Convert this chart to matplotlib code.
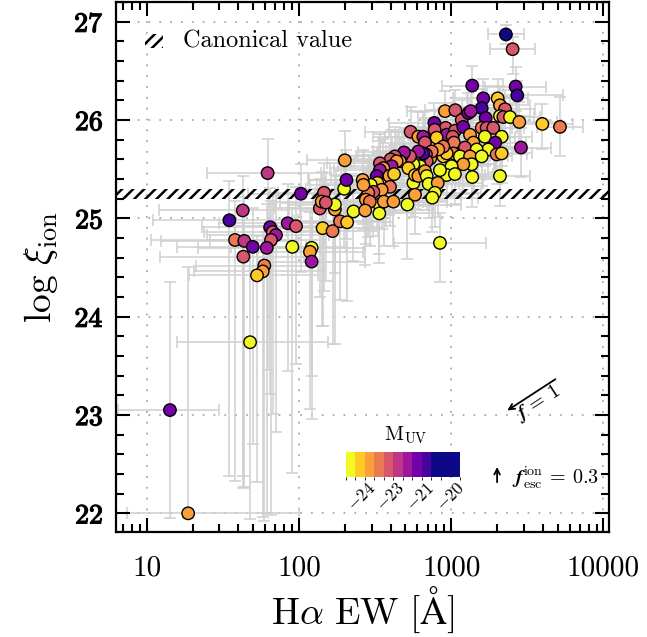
import numpy as np
import matplotlib
matplotlib.use("Agg")
import matplotlib.pyplot as plt
import matplotlib.patheffects as pe
from matplotlib.colors import BoundaryNorm, ListedColormap
from matplotlib.patches import Rectangle
from matplotlib.ticker import MultipleLocator, LogLocator, NullFormatter

plt.rcParams['font.family'] = 'serif'
plt.rcParams['font.serif'] = ['cmr10', 'DejaVu Serif']
plt.rcParams['mathtext.fontset'] = 'cm'
plt.rcParams['axes.unicode_minus'] = False
plt.rcParams['axes.formatter.use_mathtext'] = True
plt.rcParams['hatch.linewidth'] = 1.8

# ---------------- data ----------------
# three isolated objects, 35 low-EW objects, 118 objects of the main cloud
ew = [14.2, 18.7, 47.7,
      62.2, 103, 146, 198, 205, 200, 42.7, 34.9, 38.0, 43.7, 49.7, 43.1, 64.6,
      67.2, 70.6, 65.5, 61.4, 59.2, 57.8, 53.0, 84.3, 95.6, 90.4, 121, 118, 121,
      143, 166, 186, 207, 137, 172, 172, 141, 150,
      2286, 2530, 1374, 2650, 2716, 1623, 2018, 2090, 2255, 1585, 1683, 2090, 2198,
      2432, 2800, 3966, 5180, 910, 1064, 1172, 1295, 1342, 774, 918, 778, 933,
      1057, 1200, 541, 608, 655, 672, 802, 1021, 1041, 1328, 1585, 1708, 1888,
      1663, 2143, 1946, 1750, 1397, 1230, 1469, 1031, 1140, 1328, 1585, 1987, 2143,
      2871, 1362, 2090, 1200, 1005, 933, 1057, 843, 887, 933, 887, 822, 728,
      744, 682, 690, 617, 578, 624, 564, 655, 608, 536, 472, 489, 460,
      523, 564, 578, 608, 672, 690, 711, 815, 781, 751, 578, 426, 400,
      438, 406, 340, 358, 340, 324, 392, 421, 396, 327, 349, 296, 308,
      285, 262, 265, 275, 337, 361, 292, 417, 515, 228, 272, 337, 843,
      1374]
logxi = [23.05, 22.00, 23.74,
         25.46, 25.25, 25.26, 25.30, 25.39, 25.59, 25.08, 24.98, 24.78, 24.77, 24.71, 24.61, 24.91,
         24.86, 24.83, 24.78, 24.70, 24.52, 24.46, 24.42, 24.95, 24.92, 24.71, 24.70, 24.66, 24.56,
         24.90, 24.87, 24.97, 24.96, 25.10, 25.09, 25.14, 25.17, 25.16,
         26.87, 26.72, 26.35, 26.34, 26.25, 26.22, 26.22, 26.15, 26.11, 26.12, 26.02, 26.04, 26.03,
         26.03, 25.98, 25.96, 25.93, 26.09, 26.10, 26.00, 26.07, 26.09, 25.97, 25.92, 25.90, 25.85,
         25.89, 25.93, 25.88, 25.83, 25.83, 25.77, 25.82, 25.83, 25.77, 25.85, 25.92, 25.92, 25.92,
         25.83, 25.83, 25.77, 25.70, 25.77, 25.72, 25.70, 25.66, 25.63, 25.63, 25.63, 25.65, 25.66,
         25.72, 25.55, 25.43, 25.55, 25.53, 25.44, 25.45, 25.49, 25.63, 25.66, 25.73, 25.70, 25.61,
         25.68, 25.65, 25.58, 25.61, 25.57, 25.53, 25.55, 25.66, 25.68, 25.63, 25.63, 25.67, 25.58,
         25.51, 25.36, 25.44, 25.43, 25.48, 25.43, 25.35, 25.36, 25.26, 25.21, 25.24, 25.63, 25.60,
         25.58, 25.53, 25.56, 25.51, 25.49, 25.43, 25.43, 25.45, 25.32, 25.36, 25.29, 25.34, 25.27,
         25.26, 25.39, 25.34, 25.19, 25.14, 25.17, 25.17, 25.17, 25.14, 25.07, 25.08, 25.05, 24.75,
         25.42]
muv = [-21.3, -23.7, -24.4,
       -22.7, -21.3, -23.1, -24.4, -21.3, -23.7, -22.7, -20.7, -23.4, -22.7, -21.3, -23.1, -21.3,
       -23.1, -22.1, -23.1, -22.1, -23.4, -23.7, -24.05, -22.1, -23.1, -24.4, -24.4, -23.7, -22.1,
       -24.05, -23.4, -23.4, -24.05, -23.1, -23.7, -24.4, -23.7, -23.1,
       -20.2, -23.1, -21.3, -21.3, -20.7, -21.3, -24.05, -23.7, -23.1, -20.7, -21.3, -24.4, -23.1,
       -24.4, -23.7, -24.05, -23.4, -23.7, -23.1, -23.1, -21.3, -22.1, -21.3, -23.1, -23.1, -22.1,
       -23.1, -21.3, -23.1, -23.7, -22.1, -23.1, -24.05, -23.1, -23.4, -23.7, -23.4, -23.1, -23.1,
       -24.4, -24.4, -21.3, -24.4, -23.7, -23.1, -24.4, -23.4, -24.4, -23.7, -24.4, -23.4, -24.05,
       -22.1, -24.4, -24.4, -23.7, -24.4, -24.4, -24.4, -24.4, -24.05, -24.05, -23.4, -23.7, -23.7,
       -23.4, -23.1, -23.1, -24.05, -23.7, -24.4, -24.4, -20.7, -22.1, -23.1, -23.4, -22.1, -23.7,
       -24.05, -24.4, -24.05, -23.7, -23.7, -24.4, -24.4, -23.7, -24.4, -24.4, -23.7, -23.1, -23.1,
       -23.7, -22.1, -23.1, -23.7, -22.1, -21.3, -23.7, -24.05, -23.4, -24.05, -23.7, -24.4, -23.1,
       -23.4, -23.7, -23.7, -23.7, -24.4, -23.7, -23.4, -23.7, -24.4, -24.4, -23.7, -24.4, -24.4,
       -24.4]
# asymmetric errors (EW errors in dex, log xi errors in dex)
ew_lo = [0.34, 0.40, 0.48,
         0.40, 0.35, 0.30, 0.25, 0.25, 0.25, 0.55, 0.50, 0.55, 0.55, 0.50, 0.55, 0.45,
         0.45, 0.45, 0.40, 0.45, 0.45, 0.45, 0.45, 0.45, 0.40, 0.40, 0.35, 0.35, 0.35,
         0.30, 0.30, 0.30, 0.30, 0.30, 0.30, 0.30, 0.30, 0.30,
         0.12, 0.15, 0.20, 0.20, 0.20, 0.20, 0.20, 0.20, 0.20, 0.20, 0.20, 0.20, 0.20,
         0.20, 0.20, 0.20, 0.15, 0.25, 0.20, 0.25, 0.20, 0.20, 0.30, 0.25, 0.30, 0.25,
         0.20, 0.25, 0.30, 0.30, 0.25, 0.30, 0.25, 0.25, 0.20, 0.20, 0.20, 0.20, 0.20,
         0.20, 0.20, 0.20, 0.20, 0.20, 0.20, 0.20, 0.25, 0.20, 0.25, 0.20, 0.20, 0.20,
         0.20, 0.15, 0.20, 0.20, 0.20, 0.25, 0.25, 0.25, 0.25, 0.25, 0.25, 0.25, 0.30,
         0.30, 0.30, 0.30, 0.30, 0.30, 0.30, 0.30, 0.30, 0.30, 0.30, 0.30, 0.30, 0.30,
         0.30, 0.30, 0.30, 0.30, 0.30, 0.30, 0.30, 0.30, 0.30, 0.30, 0.30, 0.35, 0.30,
         0.30, 0.35, 0.35, 0.35, 0.30, 0.30, 0.35, 0.35, 0.35, 0.35, 0.35, 0.35, 0.35,
         0.35, 0.35, 0.35, 0.35, 0.35, 0.30, 0.35, 0.35, 0.35, 0.35, 0.30, 0.35, 0.30,
         0.20]
ew_hi = [0.32, 0.73, 0.51,
         0.35, 0.30, 0.30, 0.25, 0.25, 0.30, 0.30, 0.45, 0.40, 0.35, 0.35, 0.40, 0.35,
         0.40, 0.35, 0.35, 0.35, 0.35, 0.40, 0.40, 0.35, 0.35, 0.35, 0.35, 0.35, 0.35,
         0.30, 0.30, 0.30, 0.30, 0.30, 0.30, 0.30, 0.30, 0.30,
         0.12, 0.15, 0.20, 0.20, 0.30, 0.20, 0.20, 0.20, 0.20, 0.20, 0.20, 0.20, 0.20,
         0.20, 0.25, 0.20, 0.15, 0.25, 0.20, 0.25, 0.20, 0.20, 0.30, 0.25, 0.30, 0.25,
         0.20, 0.25, 0.30, 0.30, 0.25, 0.30, 0.25, 0.25, 0.20, 0.20, 0.20, 0.20, 0.20,
         0.20, 0.20, 0.20, 0.20, 0.20, 0.20, 0.20, 0.25, 0.20, 0.25, 0.20, 0.20, 0.20,
         0.20, 0.15, 0.20, 0.20, 0.20, 0.25, 0.25, 0.25, 0.25, 0.25, 0.25, 0.25, 0.30,
         0.30, 0.30, 0.30, 0.30, 0.30, 0.30, 0.30, 0.30, 0.30, 0.30, 0.30, 0.30, 0.30,
         0.30, 0.30, 0.30, 0.30, 0.30, 0.30, 0.30, 0.30, 0.30, 0.30, 0.30, 0.35, 0.30,
         0.30, 0.35, 0.35, 0.35, 0.30, 0.30, 0.35, 0.35, 0.35, 0.35, 0.35, 0.35, 0.35,
         0.35, 0.35, 0.35, 0.35, 0.35, 0.30, 0.35, 0.35, 0.35, 0.35, 0.30, 0.35, 0.30,
         0.20]
xi_lo = [1.10, 0.05, 1.80,
         2.00, 0.80, 1.00, 0.60, 0.60, 0.60, 2.70, 2.60, 2.45, 2.50, 2.00, 2.35, 1.70,
         1.85, 2.00, 2.80, 2.70, 2.60, 2.50, 2.10, 1.50, 1.40, 2.30, 1.30, 1.60, 1.60,
         1.00, 1.15, 0.80, 0.80, 0.90, 1.37, 0.70, 1.27, 0.80,
         0.10, 0.25, 0.30, 0.25, 0.30, 0.30, 0.30, 0.30, 0.30, 0.30, 0.30, 0.30, 0.30,
         0.30, 0.30, 0.25, 0.30, 0.30, 0.30, 0.30, 0.30, 0.35, 0.30, 0.35, 0.30, 0.30,
         0.30, 0.30, 0.40, 0.35, 0.35, 0.35, 0.30, 0.30, 0.30, 0.30, 0.30, 0.30, 0.30,
         0.30, 0.30, 0.30, 0.30, 0.30, 0.30, 0.30, 0.30, 0.30, 0.30, 0.30, 0.30, 0.30,
         0.30, 0.30, 0.30, 0.30, 0.30, 0.30, 0.30, 0.30, 0.30, 0.30, 0.35, 0.35, 0.35,
         0.35, 0.35, 0.35, 0.35, 0.35, 0.35, 0.35, 0.35, 0.35, 0.35, 0.35, 0.35, 0.35,
         0.35, 0.35, 0.35, 0.35, 0.35, 0.35, 0.35, 0.35, 0.35, 0.35, 0.40, 0.40, 0.40,
         0.40, 0.40, 0.40, 0.40, 0.40, 0.40, 0.40, 0.40, 0.40, 0.45, 0.40, 0.45, 0.45,
         0.45, 0.45, 0.45, 0.45, 0.50, 0.45, 0.45, 0.45, 0.55, 0.50, 0.55, 0.50, 0.40,
         0.30]
xi_hi = [1.30, 2.50, 1.00,
         0.35, 0.30, 0.30, 0.30, 0.30, 0.30, 0.35, 0.40, 0.40, 0.45, 0.40, 0.45, 0.40,
         0.40, 0.40, 0.40, 0.45, 0.40, 0.40, 0.40, 0.40, 0.40, 0.40, 0.40, 0.40, 0.40,
         0.35, 0.35, 0.30, 0.30, 0.30, 0.30, 0.30, 0.30, 0.30,
         0.10, 0.12, 0.20, 0.20, 0.15, 0.20, 0.20, 0.20, 0.20, 0.20, 0.20, 0.20, 0.20,
         0.20, 0.20, 0.20, 0.30, 0.20, 0.20, 0.20, 0.20, 0.25, 0.20, 0.25, 0.20, 0.20,
         0.20, 0.20, 0.25, 0.25, 0.25, 0.25, 0.20, 0.20, 0.20, 0.20, 0.20, 0.20, 0.20,
         0.20, 0.20, 0.20, 0.20, 0.20, 0.20, 0.20, 0.20, 0.20, 0.20, 0.20, 0.20, 0.20,
         0.20, 0.20, 0.20, 0.20, 0.20, 0.20, 0.20, 0.20, 0.20, 0.20, 0.25, 0.25, 0.25,
         0.25, 0.25, 0.25, 0.25, 0.25, 0.25, 0.25, 0.25, 0.25, 0.25, 0.25, 0.25, 0.25,
         0.25, 0.25, 0.25, 0.25, 0.25, 0.25, 0.25, 0.25, 0.25, 0.25, 0.30, 0.30, 0.30,
         0.30, 0.30, 0.30, 0.30, 0.30, 0.30, 0.30, 0.30, 0.30, 0.30, 0.30, 0.30, 0.30,
         0.30, 0.30, 0.30, 0.30, 0.30, 0.30, 0.30, 0.30, 0.30, 0.30, 0.30, 0.30, 0.30,
         0.20]

canonical_band = [25.2, 25.3]
muv_bins = [-24.55, -24.2, -23.9, -23.55, -23.25, -22.9, -22.4, -21.6, -20.9,
            -20.6, -20.4, -20.0, -19.6]
cbar_ticks = [-24, -23, -21, -20]
xtick_vals = [10, 100, 1000, 10000]
ytick_vals = [22, 23, 24, 25, 26, 27]

n = min(len(ew), len(logxi), len(muv), len(ew_lo), len(ew_hi), len(xi_lo), len(xi_hi))

# ---------------- figure ----------------
W, H = 647, 637
fig = plt.figure(figsize=(W / 100, H / 100), dpi=100)
L, R, T, B = 116, 609, 2, 532
ax = fig.add_axes([L / W, 1 - B / H, (R - L) / W, (B - T) / H])
ax.set_xscale('log')
ax.set_xlim(6.28, 10870)
ax.set_ylim(21.81, 27.2)

ew_a = np.array(ew[:n], float)
xi_a = np.array(logxi[:n], float)
xerr = np.vstack([ew_a - ew_a / 10 ** np.array(ew_lo[:n]),
                  ew_a * 10 ** np.array(ew_hi[:n]) - ew_a])
yerr = np.vstack([xi_lo[:n], xi_hi[:n]])

for v in xtick_vals:
    ax.axvline(v, color='#aaaaaa', lw=1.3, ls=(0, (1, 5)), zorder=0)
for v in ytick_vals:
    ax.axhline(v, color='#aaaaaa', lw=1.3, ls=(0, (1, 5)), zorder=0)

ax.errorbar(ew_a, xi_a, xerr=xerr, yerr=yerr, fmt='none', ecolor='#d0d0d0',
            elinewidth=1.1, capsize=4, capthick=1.1, zorder=1)

ax.fill_between([1, 1e5], canonical_band[0], canonical_band[1], facecolor='none',
                edgecolor='black', hatch='///', linewidth=0, zorder=2)

base = plt.get_cmap('plasma_r')
cols = [base(v) for v in np.linspace(0.0, 1.0, 10)]
cols += [cols[-1]] * (len(muv_bins) - 1 - len(cols))
cmap = ListedColormap(cols)
norm = BoundaryNorm(muv_bins, cmap.N)
sc = ax.scatter(ew_a, xi_a, c=muv[:n], cmap=cmap, norm=norm, s=80, edgecolors='black',
                linewidths=1.0, zorder=3)

# ticks
ax.set_xticks(xtick_vals)
ax.set_xticklabels([str(v) for v in xtick_vals], fontsize=21)
ax.xaxis.set_minor_locator(LogLocator(base=10, subs=np.arange(2, 10)))
ax.xaxis.set_minor_formatter(NullFormatter())
ax.set_yticks(ytick_vals)
ax.set_yticklabels([r'$\mathbf{%d}$' % v for v in ytick_vals], fontsize=20)
for t in ax.get_yticklabels():
    t.set_path_effects([pe.withStroke(linewidth=0.9, foreground='black')])
ax.yaxis.set_minor_locator(MultipleLocator(0.2))
ax.tick_params(which='both', direction='in', top=True, right=True, width=1.5)
ax.tick_params(which='major', length=10)
ax.tick_params(which='minor', length=6)
ax.tick_params(axis='x', which='major', pad=17)
ax.tick_params(axis='y', which='major', pad=9)
for s in ax.spines.values():
    s.set_linewidth(1.6)

ax.set_xlabel(r'$\mathrm{H\alpha\ EW\ [\AA]}$', fontsize=27, labelpad=2)
ax.set_ylabel(r'$\log\,\xi_{\rm ion}$', fontsize=27, labelpad=10)

# legend (manual)
ax.add_patch(Rectangle((0.059, 0.913), 0.036, 0.027, transform=ax.transAxes,
                       facecolor='none', edgecolor='black', hatch='///', linewidth=0))
ax.text(0.136, 0.926, 'Canonical value', transform=ax.transAxes, fontsize=17.5,
        va='center', ha='left')

# arrows
ax.annotate('', xy=(0.789, 0.2264), xytext=(0.8959, 0.2911), xycoords='axes fraction',
            arrowprops=dict(arrowstyle='->', color='black', lw=1.3))
ax.text(0.856, 0.243, r'$\mathbfit{f}$ = 1', transform=ax.transAxes, fontsize=14.5,
        rotation=33, ha='center', va='center')
ax.annotate('', xy=(0.773, 0.128), xytext=(0.773, 0.0887), xycoords='axes fraction',
            arrowprops=dict(arrowstyle='->', color='black', lw=1.3))
ax.text(0.803, 0.102, r'$\mathbfit{f}_{\rm esc}^{\rm ion}$ = 0.3', transform=ax.transAxes,
        fontsize=14.5, ha='left', va='center')

# colorbar
cax = fig.add_axes([345.7 / W, 1 - 477 / H, 114.3 / W, 25 / H])
cb = fig.colorbar(sc, cax=cax, orientation='horizontal')
cb.outline.set_visible(False)
cb.set_ticks(cbar_ticks)
cb.set_ticklabels([r'$%d$' % v for v in cbar_ticks])
cax.tick_params(length=0, labelsize=12.5, rotation=45, pad=2)
fig.text(406 / W, 1 - 435 / H, r'$\mathrm{M_{UV}}$', fontsize=15, ha='center', va='center')

fig.savefig('out.png', dpi=100)
